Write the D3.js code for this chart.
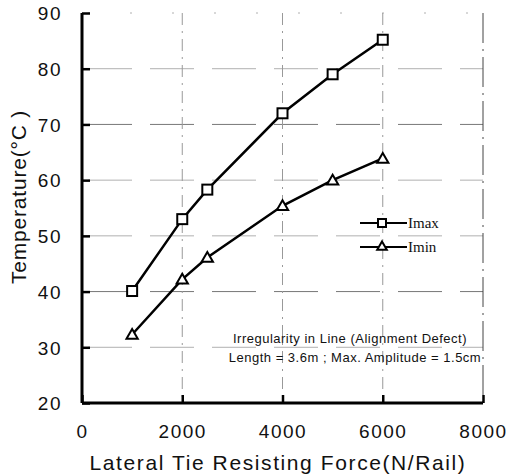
<!DOCTYPE html>
<html>
<head>
<meta charset="utf-8">
<script src="https://cdn.jsdelivr.net/npm/d3@7"></script>
<style>
  body { margin: 0; background: #fff; }
  text { font-family: "Liberation Sans", Arial, sans-serif; fill: #111; }
</style>
</head>
<body>
<div id="graph"></div>
<script>
// data
var force = [1000, 2000, 2500, 4000, 5000, 6000];
var tMax = [40.1, 53, 58.3, 72, 79, 85.2];
var tMin = [32.3, 42.2, 46.1, 55.4, 60, 63.9];
var xTicks = [0, 2000, 4000, 6000, 8000];
var yTicks = [20, 30, 40, 50, 60, 70, 80, 90];
var note = ["Irregularity in Line (Alignment Defect)", "Length = 3.6m ; Max. Amplitude = 1.5cm"];

var svgWidth = 509, svgHeight = 476;
var margin = {top: 13, right: 26, bottom: 73, left: 82};

var svg = d3.select('#graph').append('svg')
  .attr('width', svgWidth)
  .attr('height', svgHeight);

var g = svg.append('g')
  .attr('transform', 'translate(' + margin.left + ',' + margin.top + ')');

var x = d3.scaleLinear().domain([0, 8000]).range([0, 401]);
var y = d3.scaleLinear().domain([20, 90]).range([390, 0]);

// grid
g.selectAll('.hgrid').data(yTicks.filter(function(d) { return d > 20; }))
  .enter().append('line')
  .attr('x1', 0).attr('x2', x(8000))
  .attr('y1', function(d) { return y(d); })
  .attr('y2', function(d) { return y(d); })
  .attr('stroke', function(d) { return d === 70 || d === 40 ? '#777' : '#b0b0b0'; })
  .attr('stroke-width', 1)
  .attr('stroke-dasharray', function(d) { return d === 90 ? '2,40' : '44,18'; })
  .attr('stroke-dashoffset', -6);

g.selectAll('.vgrid').data([2000, 4000, 6000])
  .enter().append('line')
  .attr('x1', function(d) { return x(d); })
  .attr('x2', function(d) { return x(d); })
  .attr('y1', 0).attr('y2', y(20))
  .attr('stroke', '#999')
  .attr('stroke-width', 1)
  .attr('stroke-dasharray', '12,6,2,6');

// right border
g.append('line')
  .attr('x1', x(8000)).attr('x2', x(8000))
  .attr('y1', 0).attr('y2', y(20))
  .attr('stroke', '#444')
  .attr('stroke-dasharray', '30,6,2,6');

// axes
var yAxis = g.append('g')
  .call(d3.axisLeft(y).tickValues(yTicks).tickSize(-8).tickPadding(20));
var xAxis = g.append('g')
  .attr('transform', 'translate(0,' + y(20) + ')')
  .call(d3.axisBottom(x).tickValues(xTicks).tickFormat(d3.format('d')).tickSize(-8).tickPadding(22));

[yAxis, xAxis].forEach(function(a) {
  a.select('.domain').attr('stroke', '#000').attr('stroke-width', 3);
  a.selectAll('.tick line').attr('stroke', '#000').attr('stroke-width', 2.5);
  a.selectAll('.tick text')
    .style('font-size', '19px')
    .style('letter-spacing', '1.5px')
    .attr('fill', '#111');
});
yAxis.select('.domain').attr('d', 'M0,0V' + y(20));
xAxis.select('.domain').attr('d', 'M0,0H' + x(8000));
yAxis.selectAll('.tick text').attr('dy', '0.36em');
xAxis.selectAll('.tick text').attr('dy', '0.71em');

// series
var lineT = d3.line()
  .x(function(d, i) { return x(force[i]); })
  .y(function(d) { return y(d); });

g.append('path').datum(tMax)
  .attr('fill', 'none').attr('stroke', '#000').attr('stroke-width', 2.5)
  .attr('d', lineT);
g.append('path').datum(tMin)
  .attr('fill', 'none').attr('stroke', '#000').attr('stroke-width', 2.5)
  .attr('d', lineT);

var tri = d3.symbol().type(d3.symbolTriangle).size(55);

g.selectAll('.sq').data(tMax).enter().append('rect')
  .attr('x', function(d, i) { return x(force[i]) - 5; })
  .attr('y', function(d) { return y(d) - 5; })
  .attr('width', 10).attr('height', 10)
  .attr('fill', '#fff').attr('stroke', '#000').attr('stroke-width', 2);

g.selectAll('.tri').data(tMin).enter().append('path')
  .attr('transform', function(d, i) { return 'translate(' + x(force[i]) + ',' + (y(d) + 1) + ')'; })
  .attr('d', tri)
  .attr('fill', '#fff').attr('stroke', '#000').attr('stroke-width', 2);

// legend
var legend = g.append('g').attr('transform', 'translate(278,210)');
legend.append('line').attr('x1', 0).attr('x2', 47).attr('y1', 0).attr('y2', 0)
  .attr('stroke', '#000').attr('stroke-width', 2);
legend.append('rect').attr('x', 18).attr('y', -4).attr('width', 8).attr('height', 8)
  .attr('fill', '#fff').attr('stroke', '#000').attr('stroke-width', 2);
legend.append('text').attr('x', 48).attr('y', 5).style('font-size', '15px')
  .style('font-family', '"Liberation Serif", serif').text('Imax');
legend.append('line').attr('x1', 0).attr('x2', 47).attr('y1', 24).attr('y2', 24)
  .attr('stroke', '#000').attr('stroke-width', 2);
legend.append('path').attr('transform', 'translate(22,24)')
  .attr('d', d3.symbol().type(d3.symbolTriangle).size(40))
  .attr('fill', '#fff').attr('stroke', '#000').attr('stroke-width', 2);
legend.append('text').attr('x', 48).attr('y', 29).style('font-size', '15px')
  .style('font-family', '"Liberation Serif", serif').text('Imin');

// note
g.selectAll('.note').data(note).enter().append('text')
  .attr('x', function(d, i) { return i === 0 ? 268 : 273; })
  .attr('y', function(d, i) { return 330 + i * 19; })
  .attr('text-anchor', 'middle')
  .style('font-size', '13px')
  .style('letter-spacing', '0.5px')
  .text(function(d) { return d; });

// axis titles
svg.append('text')
  .attr('x', 278).attr('y', 470)
  .attr('text-anchor', 'middle')
  .style('font-size', '21px')
  .style('letter-spacing', '1.6px')
  .text('Lateral Tie Resisting Force(N/Rail)');

svg.append('text')
  .attr('transform', 'translate(26,197) rotate(-90)')
  .attr('text-anchor', 'middle')
  .style('font-size', '21px')
  .style('letter-spacing', '0.8px')
  .text('Temperature(\u00B0C )');
</script>
</body>
</html>
